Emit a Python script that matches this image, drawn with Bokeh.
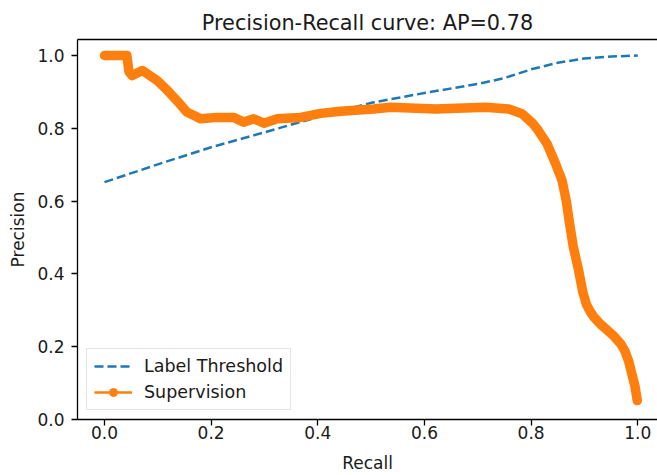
from bokeh.plotting import figure
from bokeh.models import Range1d, FixedTicker, PrintfTickFormatter, Legend, LegendItem, LinearAxis
from bokeh.embed import file_html
from bokeh.resources import INLINE

# Label Threshold curve (dashed)
thr_recall = [0.0, 0.1, 0.2, 0.3, 0.4, 0.5, 0.6, 0.7, 0.75, 0.8, 0.85, 0.9, 0.95, 1.0]
thr_precision = [0.652, 0.701, 0.748, 0.789, 0.831, 0.870, 0.897, 0.922, 0.938, 0.962, 0.980, 0.992, 0.997, 1.0]

# Supervision curve
sup_recall = [0.0, 0.042, 0.046, 0.052, 0.071, 0.099, 0.118, 0.136, 0.155, 0.168, 0.18,
              0.211, 0.242, 0.261, 0.28, 0.299, 0.324, 0.368, 0.405, 0.443, 0.505, 0.536,
              0.621, 0.714, 0.758, 0.783, 0.802, 0.811, 0.83, 0.846, 0.858, 0.866, 0.872,
              0.879, 0.889, 0.897, 0.904, 0.911, 0.918, 0.930, 0.943, 0.956, 0.968, 0.976,
              0.983, 0.989, 0.995, 0.999]
sup_precision = [1.0, 1.0, 0.955, 0.945, 0.959, 0.931, 0.904, 0.876, 0.844, 0.835, 0.826,
                 0.830, 0.830, 0.817, 0.826, 0.814, 0.826, 0.830, 0.841, 0.847, 0.853, 0.858,
                 0.853, 0.858, 0.853, 0.840, 0.815, 0.799, 0.757, 0.702, 0.657, 0.600, 0.540,
                 0.475, 0.410, 0.350, 0.315, 0.296, 0.281, 0.262, 0.245, 0.228, 0.208, 0.188,
                 0.160, 0.125, 0.090, 0.052]

x_ticks = [0.0, 0.2, 0.4, 0.6, 0.8, 1.0]
y_ticks = [0.0, 0.2, 0.4, 0.6, 0.8, 1.0]

FONT = "DejaVu Sans"
BLUE = "#1f77b4"
ORANGE = "#ff7f0e"
TXT = "#1a1a1a"

p = figure(width=657, height=475, output_backend="svg", toolbar_location=None,
           x_range=Range1d(-0.0506, 1.037), y_range=Range1d(0, 1.044),
           min_border_left=77, min_border_right=0, min_border_top=39, min_border_bottom=56)

p.title.text = "Precision-Recall curve: AP=0.78"
p.title.align = "center"
p.title.text_font = FONT
p.title.text_font_size = "20.8px"
p.title.text_font_style = "normal"
p.title.text_color = TXT
p.title.standoff = 10

p.grid.visible = False
p.outline_line_color = None
p.background_fill_color = "white"
p.border_fill_color = "white"

for ax, ticks in ((p.xaxis[0], x_ticks), (p.yaxis[0], y_ticks)):
    ax.ticker = FixedTicker(ticks=ticks)
    ax.formatter = PrintfTickFormatter(format="%.1f")
    ax.major_label_text_font = FONT
    ax.major_label_text_font_size = "17px"
    ax.major_label_text_color = TXT
    ax.axis_label_text_font = FONT
    ax.axis_label_text_font_size = "17px"
    ax.axis_label_text_font_style = "normal"
    ax.axis_label_text_color = TXT
    ax.axis_line_width = 1.3
    ax.axis_line_color = "black"
    ax.major_tick_line_width = 1.3
    ax.major_tick_line_color = "black"
    ax.major_tick_out = 6
    ax.major_tick_in = 0
    ax.minor_tick_line_color = None

p.xaxis.axis_label = "Recall"
p.yaxis.axis_label = "Precision"
p.xaxis.major_label_standoff = 0
p.xaxis.axis_label_standoff = 11
p.yaxis.major_label_standoff = 7
p.yaxis.axis_label_standoff = 6

# top spine
top = LinearAxis(ticker=FixedTicker(ticks=[]), major_tick_out=0, major_tick_in=0,
                 minor_tick_line_color=None, major_label_text_font_size="0px",
                 axis_line_width=1.3, axis_line_color="black")
p.add_layout(top, "above")

r_thr = p.line(thr_recall, thr_precision, line_color=BLUE, line_width=2.5, line_dash="9 4")

p.line(sup_recall, sup_precision, line_color=ORANGE, line_width=9.5,
       line_cap="round", line_join="round")
r_sup_line = p.line(sup_recall, sup_precision, line_color=ORANGE, line_width=2.5)
r_sup_dot = p.scatter(sup_recall, sup_precision, marker="circle", size=5.5,
                      fill_color=ORANGE, line_color=ORANGE)

legend = Legend(items=[LegendItem(label="Label Threshold", renderers=[r_thr]),
                       LegendItem(label="Supervision", renderers=[r_sup_line, r_sup_dot])],
                location=(9, 9))
legend.label_text_font = FONT
legend.label_text_font_size = "17.5px"
legend.label_text_color = TXT
legend.glyph_width = 38
legend.glyph_height = 20
legend.label_height = 20
legend.label_standoff = 12
legend.spacing = 6
legend.padding = 7
legend.margin = 0
legend.border_line_color = "#cccccc"
legend.border_line_width = 1.3
legend.background_fill_alpha = 0.8
p.add_layout(legend, "center")

open("out.html", "w").write(file_html(p, INLINE))
